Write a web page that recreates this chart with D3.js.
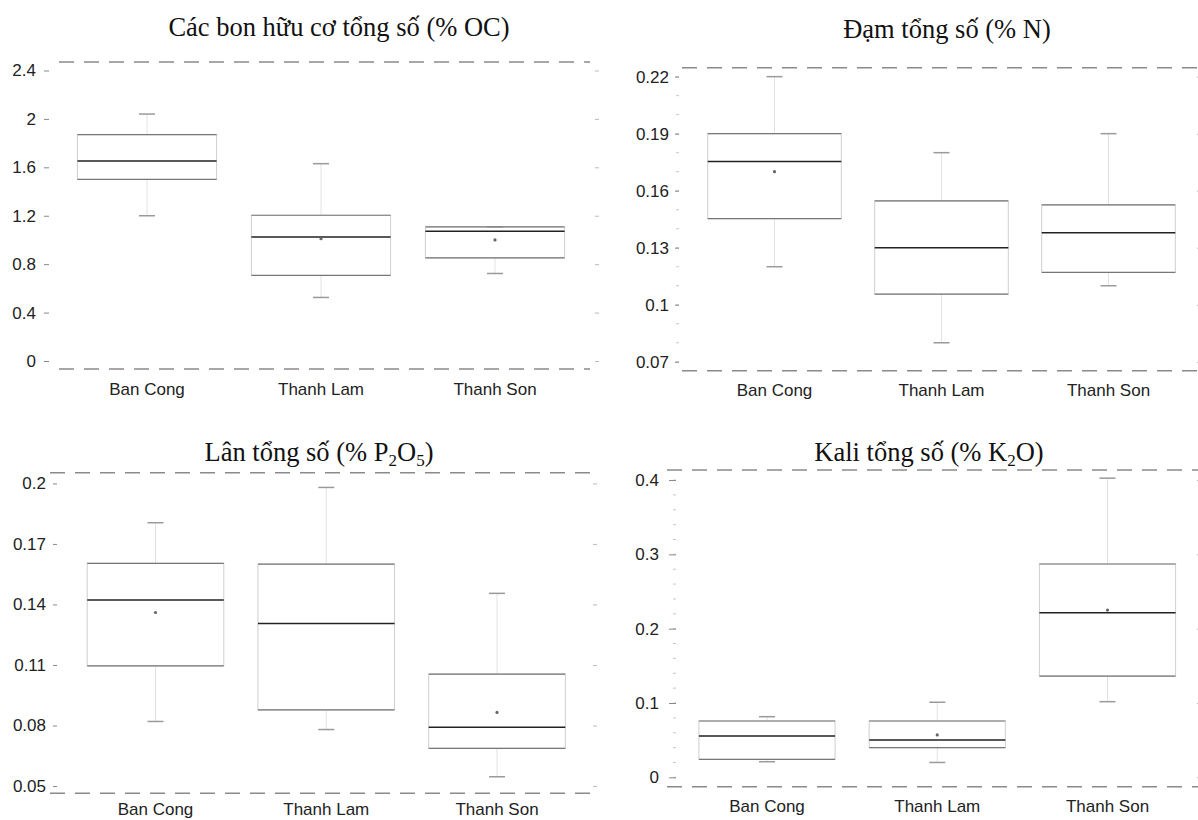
<!DOCTYPE html>
<html>
<head>
<meta charset="utf-8">
<script src="https://cdn.jsdelivr.net/npm/d3@7"></script>
<style>
  body { margin: 0; background: #fff; }
  svg { display: block; }
  .tick text { font-family: "Liberation Sans", Arial, sans-serif; font-size: 17px; fill: #222; }
  .title { font-family: "Liberation Serif", "Times New Roman", serif; font-size: 26.5px; fill: #111; }
  .cat { font-family: "Liberation Sans", Arial, sans-serif; font-size: 17px; fill: #222; }
</style>
</head>
<body>
<div id="chart"></div>
<script>
// categories shared by the four panels
const categories = ["Ban Cong", "Thanh Lam", "Thanh Son"];

// Các bon hữu cơ (% OC)
const ocTicks  = [0, 0.4, 0.8, 1.2, 1.6, 2, 2.4];
const ocLow    = [1.20, 0.525, 0.723];
const ocQ1     = [1.50, 0.707, 0.852];
const ocMedian = [1.652, 1.025, 1.072];
const ocQ3     = [1.87, 1.204, 1.108];
const ocHigh   = [2.04, 1.63, 1.108];
const ocMean   = [null, 1.01, 1.0];

// Đạm (% N)
const nTicks  = [0.07, 0.1, 0.13, 0.16, 0.19, 0.22];
const nLow    = [0.12, 0.08, 0.11];
const nQ1     = [0.1453, 0.1056, 0.117];
const nMedian = [0.1753, 0.13, 0.1379];
const nQ3     = [0.19, 0.1546, 0.1525];
const nHigh   = [0.22, 0.18, 0.19];
const nMean   = [0.17, null, null];

// Lân (% P2O5)
const pTicks  = [0.05, 0.08, 0.11, 0.14, 0.17, 0.2];
const pLow    = [0.082, 0.078, 0.0546];
const pQ1     = [0.1096, 0.0877, 0.0687];
const pMedian = [0.1422, 0.1306, 0.0791];
const pQ3     = [0.1604, 0.16, 0.1055];
const pHigh   = [0.1805, 0.198, 0.1455];
const pMean   = [0.136, null, 0.0865];

// Kali (% K2O)
const kTicks  = [0, 0.1, 0.2, 0.3, 0.4];
const kLow    = [0.021, 0.02, 0.1018];
const kQ1     = [0.0242, 0.0399, 0.1363];
const kMedian = [0.0556, 0.0502, 0.2216];
const kQ3     = [0.0758, 0.0758, 0.287];
const kHigh   = [0.0816, 0.101, 0.4025];
const kMean   = [null, 0.057, 0.225];

const W = 1198, H = 820;
const svg = d3.select("#chart").append("svg").attr("width", W).attr("height", H);

// layout of each panel (pixels only)
const panels = [
  { title: [["Các bon hữu cơ tổng số (% OC)"]], tx: 339, ty: 36,
    axisX: 49, tickSize: 5, pad: 8, right: 595, frame: [59, 590], top: 62, bottom: 369,
    domain: [-0.066, 2.47], ticks: ocTicks, minor: null,
    c0: 147, c2: 495, labelY: 395,
    low: ocLow, q1: ocQ1, med: ocMedian, q3: ocQ3, high: ocHigh, mean: ocMean },
  { title: [["Đạm tổng số (% N)"]], tx: 947, ty: 38,
    axisX: 679, tickSize: 4, pad: 6, right: 1197, frame: [682, 1200], top: 67.7, bottom: 370.7,
    domain: [0.0653, 0.2247], ticks: nTicks, minor: 0.01,
    c0: 774.5, c2: 1108.5, labelY: 396,
    low: nLow, q1: nQ1, med: nMedian, q3: nQ3, high: nHigh, mean: nMean },
  { title: [["Lân tổng số (% P"], ["2", "sub"], ["O"], ["5", "sub"], [")"]], tx: 319, ty: 461,
    axisX: 57, tickSize: 4, pad: 7, right: 593, frame: [50, 600], top: 472.7, bottom: 793.3,
    domain: [0.0464, 0.2053], ticks: pTicks, minor: null,
    c0: 155.5, c2: 497, labelY: 815,
    low: pLow, q1: pQ1, med: pMedian, q3: pQ3, high: pHigh, mean: pMean },
  { title: [["Kali tổng số (% K"], ["2", "sub"], ["O)"]], tx: 929, ty: 461,
    axisX: 676, tickSize: 7, pad: 10, right: 1197, frame: [667, 1200], top: 470, bottom: 786.7,
    domain: [-0.0126, 0.4135], ticks: kTicks, minor: 0.02,
    c0: 767, c2: 1107.5, labelY: 812,
    low: kLow, q1: kQ1, med: kMedian, q3: kQ3, high: kHigh, mean: kMean }
];

panels.forEach(p => {
  const g = svg.append("g");

  const y = d3.scaleLinear().domain(p.domain).range([p.bottom, p.top]);
  const step = (p.c2 - p.c0) / 2;
  const x = d3.scaleBand()
      .domain(categories)
      .range([p.c0 - step * 0.6, p.c2 + step * 0.6])
      .paddingInner(0.2)
      .paddingOuter(0.2);

  // title
  const t = g.append("text").attr("class", "title")
      .attr("x", p.tx).attr("y", p.ty).attr("text-anchor", "middle");
  p.title.forEach(([s, kind]) => {
    const ts = t.append("tspan").text(s);
    if (kind === "sub") ts.attr("font-size", 17).attr("dy", 5);
    else if (t.selectAll("tspan").size() > 1) ts.attr("dy", -5);
  });

  // dashed top and bottom frame
  [p.top, p.bottom].forEach(yy => {
    g.append("line")
      .attr("x1", p.frame[0]).attr("x2", p.frame[1])
      .attr("y1", yy).attr("y2", yy)
      .attr("stroke", "#8a8a8a").attr("stroke-width", 1.5)
      .attr("stroke-dasharray", "15,10");
  });

  // minor ticks
  if (p.minor) {
    const minorTicks = d3.range(Math.ceil(p.domain[0] / p.minor) * p.minor, p.domain[1], p.minor);
    g.selectAll(".minor").data(minorTicks).join("line")
      .attr("x1", p.axisX - 3).attr("x2", p.axisX)
      .attr("y1", d => y(d)).attr("y2", d => y(d))
      .attr("stroke", "#c8c8c8");
  }

  // left axis
  const ax = g.append("g")
      .attr("transform", `translate(${p.axisX},0)`)
      .call(d3.axisLeft(y).tickValues(p.ticks).tickSize(p.tickSize).tickPadding(p.pad)
        .tickFormat(d3.format("~g")));
  ax.select(".domain").remove();
  ax.selectAll(".tick line").attr("stroke", "#888");

  // faint right ticks
  const rx = g.append("g")
      .attr("transform", `translate(${p.right},0)`)
      .call(d3.axisRight(y).tickValues(p.ticks).tickSize(4).tickFormat(""));
  rx.select(".domain").remove();
  rx.selectAll(".tick line").attr("stroke", "#bbb");

  // category labels
  g.selectAll(".cat").data(categories).join("text")
      .attr("class", "cat")
      .attr("x", d => x(d) + x.bandwidth() / 2)
      .attr("y", p.labelY)
      .attr("text-anchor", "middle")
      .text(d => d);

  // boxes
  categories.forEach((c, i) => {
    const x0 = x(c), bw = x.bandwidth(), cx = x0 + bw / 2;

    // whiskers
    g.append("line").attr("x1", cx).attr("x2", cx)
      .attr("y1", y(p.q3[i])).attr("y2", y(p.high[i]))
      .attr("stroke", "#e2e2e2");
    g.append("line").attr("x1", cx).attr("x2", cx)
      .attr("y1", y(p.q1[i])).attr("y2", y(p.low[i]))
      .attr("stroke", "#e2e2e2");
    [p.low[i], p.high[i]].forEach(v => {
      g.append("line")
        .attr("x1", cx - 8).attr("x2", cx + 8)
        .attr("y1", y(v)).attr("y2", y(v))
        .attr("stroke", "#9a9a9a").attr("stroke-width", 1.5);
    });

    // box sides
    g.append("rect")
      .attr("x", x0).attr("width", bw)
      .attr("y", y(p.q3[i])).attr("height", y(p.q1[i]) - y(p.q3[i]))
      .attr("fill", "none").attr("stroke", "#cfcfcf");
    // quartile edges
    [p.q1[i], p.q3[i]].forEach(v => {
      g.append("line")
        .attr("x1", x0).attr("x2", x0 + bw)
        .attr("y1", y(v)).attr("y2", y(v))
        .attr("stroke", "#777").attr("stroke-width", 1.2);
    });
    // median
    g.append("line")
      .attr("x1", x0).attr("x2", x0 + bw)
      .attr("y1", y(p.med[i])).attr("y2", y(p.med[i]))
      .attr("stroke", "#222").attr("stroke-width", 1.5);

    // mean marker
    if (p.mean[i] != null) {
      g.append("circle")
        .attr("cx", cx).attr("cy", y(p.mean[i])).attr("r", 1.6)
        .attr("fill", "#666");
    }
  });
});
</script>
</body>
</html>
